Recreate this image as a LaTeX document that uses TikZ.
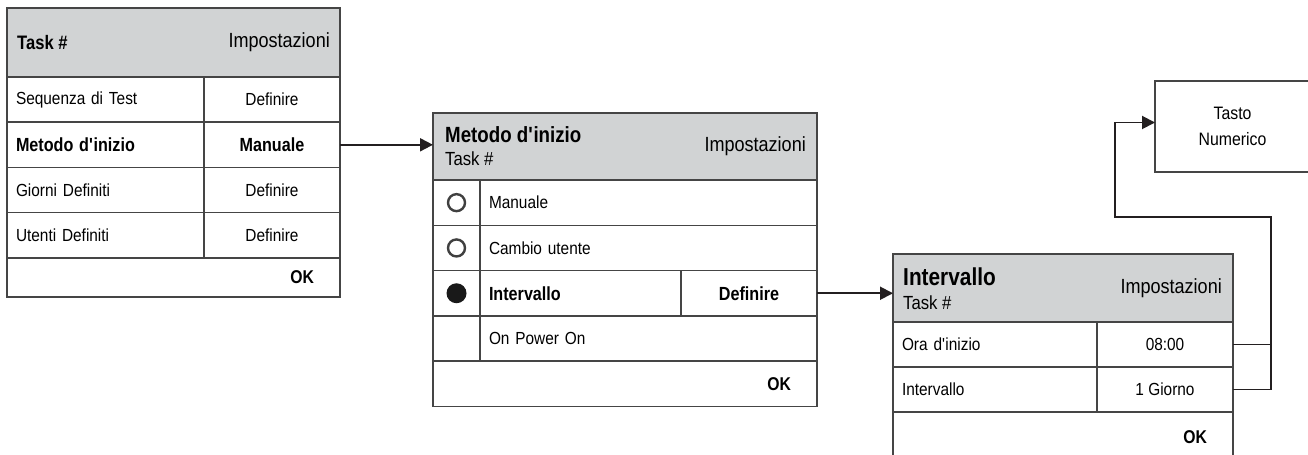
\documentclass[tikz,border=0pt]{standalone}
\usepackage{fontspec}
\setmainfont{Liberation Sans}[FakeStretch=0.88,BoldFeatures={FakeStretch=0.85}]
\usetikzlibrary{arrows.meta,positioning}

\definecolor{hdrgray}{HTML}{D1D3D4}
\definecolor{framegray}{HTML}{454545}
\definecolor{linkblack}{HTML}{231F20}

\newcommand\rowtxt{\fontsize{17.5bp}{21bp}\selectfont}
\newcommand\rowbf{\fontsize{19bp}{21bp}\selectfont\bfseries}
\newcommand\hdtxt{\fontsize{20.5bp}{24bp}\selectfont}
\newcommand\subtxt{\fontsize{19bp}{22bp}\selectfont}
\newcommand\okbf{\fontsize{18.5bp}{20bp}\selectfont\bfseries}

\tikzset{
  cell/.style={draw=framegray, line width=1.5bp, anchor=north west, inner sep=0pt, outer sep=0pt},
  lcell/.style={cell, text width=#1, align=left, inner xsep=9bp},
  rcell/.style={cell, text width=#1, align=right, inner xsep=26bp},
  hcell/.style={cell, fill=hdrgray},
  label/.style={inner sep=0pt},
  wire/.style={draw=linkblack, line width=1.9bp},
  link/.style={wire, -{Triangle[length=13bp,width=13bp]}},
  radio/.style={circle, draw=black!75, line width=2.4bp, fill=white, minimum size=17bp, inner sep=0pt},
  radioon/.style={circle, fill=black!90, minimum size=20bp, inner sep=0pt}
}

\begin{document}
\begin{tikzpicture}[x=1bp,y=-1bp]
  \useasboundingbox (0,0) rectangle (1308,455);
  \clip (0,0) rectangle (1308,455);
  \fill[white] (0,0) rectangle (1308,455);

  % Task # menu
  \node[hcell, minimum width=333bp, minimum height=69bp] (hd1) at (7,8) {};
  \node[label, anchor=west, font={\fontsize{19.5bp}{22bp}\selectfont\bfseries}] (hd1a) at ([xshift=10bp]hd1.west) {Task \#};
  \node[label, anchor=east, font=\hdtxt] (hd1b) at ([xshift=-10bp]hd1.east) {Impostazioni};
  \foreach \lab/\val [count=\i] in {Sequenza di Test/Definire,
      {\rowbf Metodo d\textquotesingle inizio}/{\rowbf Manuale},
      Giorni Definiti/Definire, Utenti Definiti/Definire}
  {
    \node[lcell=179bp, minimum height=45.2bp, font=\rowtxt] (la\i) at (7,{77+45.2*(\i-1)}) {\lab};
    \node[cell, minimum width=136bp, minimum height=45.2bp, font=\rowtxt] (va\i) at (204,{77+45.2*(\i-1)}) {\val};
  }
  \node[rcell=281bp, minimum height=39bp, font=\okbf] (ok1) at (7,257.8) {OK};

  % Metodo d'inizio menu
  \node[hcell, minimum width=384bp, minimum height=67bp] (hd2) at (433,113) {};
  \node[label, anchor=base west, font={\fontsize{22bp}{24bp}\selectfont\bfseries}] (hd2a) at (445,143) {Metodo d\textquotesingle inizio};
  \node[label, anchor=base west, font=\subtxt] (hd2b) at (445,166) {Task \#};
  \node[label, anchor=east, font=\hdtxt] (hd2c) at ([xshift=-11bp]hd2.east) {Impostazioni};
  \foreach \i in {1,...,4}
    \node[cell, minimum width=47bp, minimum height=45.3bp] (rc\i) at (433,{180+45.3*(\i-1)}) {};
  \node[lcell=319bp, minimum height=45.3bp, font=\rowtxt] (mb1) at (480,180) {Manuale};
  \node[lcell=319bp, minimum height=45.3bp, font=\rowtxt] (mb2) at (480,225.3) {Cambio utente};
  \node[lcell=183bp, minimum height=45.3bp, font=\rowbf] (mb3) at (480,270.6) {Intervallo};
  \node[cell, minimum width=136bp, minimum height=45.3bp, font=\rowbf] (df2) at (681,270.6) {Definire};
  \node[lcell=319bp, minimum height=45.3bp, font=\rowtxt] (mb4) at (480,315.9) {On Power On};
  \node[rcell=332bp, minimum height=45.3bp, font=\okbf] (ok2) at (433,361.2) {OK};
  \node[radio] (rd1) at (rc1) {};
  \node[radio] (rd2) at (rc2) {};
  \node[radioon] (rd3) at (rc3) {};

  % Intervallo menu
  \node[hcell, minimum width=340bp, minimum height=68bp] (hd3) at (893,254) {};
  \node[label, anchor=base west, font={\fontsize{24.5bp}{26bp}\selectfont\bfseries}] (hd3a) at (903,286) {Intervallo};
  \node[label, anchor=base west, font=\subtxt] (hd3b) at (903,310) {Task \#};
  \node[label, anchor=east, font=\hdtxt] (hd3c) at ([xshift=-11bp]hd3.east) {Impostazioni};
  \node[lcell=186bp, minimum height=45bp, font=\rowtxt] (ps1) at (893,322) {Ora d\textquotesingle inizio};
  \node[cell, minimum width=136bp, minimum height=45bp, font=\rowtxt] (vs1) at (1097,322) {08:00};
  \node[lcell=186bp, minimum height=45bp, font=\rowtxt] (ps2) at (893,367) {Intervallo};
  \node[cell, minimum width=136bp, minimum height=45bp, font=\rowtxt] (vs2) at (1097,367) {1 Giorno};
  \node[rcell=288bp, minimum height=50bp, font=\okbf] (ok3) at (893,412) {OK};

  % Tasto Numerico
  \node[cell, minimum width=155bp, minimum height=91bp, align=center,
        font={\fontsize{18bp}{26bp}\selectfont}] (tasto) at (1155,81) {Tasto\\Numerico};

  % connectors
  \coordinate (jn) at (1271,217);
  \coordinate (up) at (1115,217);
  \draw[link] (va2.east) -- (va2.east -| hd2.west);
  \draw[link] (df2.east) -- (df2.east -| hd3.west);
  \draw[wire] (vs1.east) -| (jn);
  \draw[link] (vs2.east) -| (jn) -- (up) |- ([yshift=4bp]tasto.west);
\end{tikzpicture}
\end{document}
